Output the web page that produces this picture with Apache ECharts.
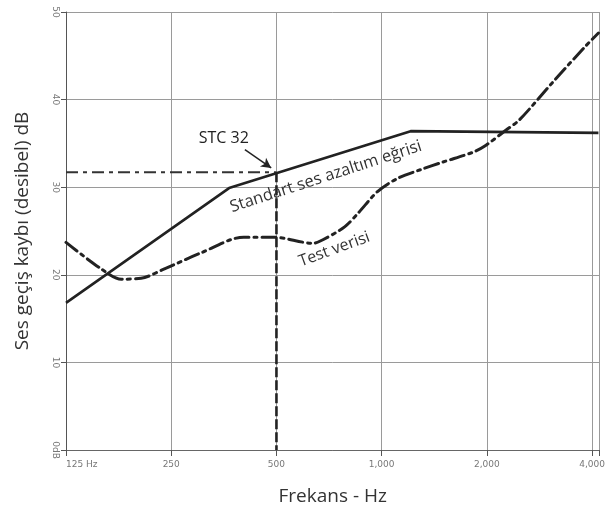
<!DOCTYPE html>
<html>
<head>
<meta charset="utf-8">
<script src="https://cdn.jsdelivr.net/npm/echarts@6/dist/echarts.min.js"></script>
<style>html,body{margin:0;padding:0;background:#fff;}#c{width:608px;height:517px;}</style>
</head>
<body>
<div id="c"></div>
<script>
// ---- data ----
const xLabels = ['125 Hz', '250', '500', '1,000', '2,000', '4,000'];
const xTickHz = [125, 250, 500, 1000, 2000, 4000];
const yLabels = ['0dB', '10', '20', '30', '40', '50'];
// Standard sound transmission class contour (STC 32), Hz / dB
const stcHz = [125, 366, 1210, 4170];
const stcDb = [16.8, 29.9, 36.4, 36.2];
// Test data, Hz / dB
const testHz = [125, 156, 180, 205, 240, 304, 403, 490, 637, 679, 785, 859, 973, 1110, 1292, 1505, 1828, 1973, 2266, 2480, 3074, 3810, 4170];
const testDb = [23.7, 20.8, 19.5, 19.6, 20.7, 22.5, 24.3, 24.3, 23.6, 24.0, 25.5, 27.1, 29.5, 31.0, 32.0, 32.9, 34.0, 34.7, 36.5, 37.7, 41.9, 46.0, 47.6];
const stcRatingHz = 500;
const stcRatingDb = 31.7;

// octave position relative to 125 Hz (axis is octave-spaced)
const oct = hz => Math.log2(hz / xTickHz[0]);
const pairs = (hz, db) => hz.map((h, i) => [oct(h), db[i]]);

const font = 'Open Sans';
const chart = echarts.init(document.getElementById('c'), null, {renderer: 'canvas'});
chart.setOption({
  animation: false,
  backgroundColor: '#fff',
  grid: {left: 66, right: 0, top: 12, bottom: 67, containLabel: false},
  xAxis: {
    type: 'value', min: 0, max: 5.07, interval: 1,
    name: 'Frekans - Hz', nameLocation: 'middle', nameGap: 37,
    nameTextStyle: {fontFamily: font, fontSize: 19, color: '#333'},
    axisLine: {show: true, lineStyle: {color: '#666', width: 1}},
    axisTick: {show: true, length: 6, lineStyle: {color: '#555'}},
    splitLine: {show: true, lineStyle: {color: '#9a9a9a', width: 1}},
    axisLabel: {
      fontFamily: 'DejaVu Sans', fontSize: 9, color: '#777', margin: 10,
      alignMinLabel: 'left',
      formatter: v => {
        const i = Math.round(v);
        return Math.abs(v - i) < 1e-6 && xLabels[i] !== undefined ? xLabels[i] : '';
      }
    }
  },
  yAxis: {
    type: 'value', min: 0, max: 50, interval: 10,
    name: 'Ses geçiş kaybı (desibel) dB', nameLocation: 'middle', nameGap: 34,
    nameTextStyle: {fontFamily: font, fontSize: 19, color: '#333'},
    axisLine: {show: true, lineStyle: {color: '#555', width: 1}},
    axisTick: {show: true, length: 5, lineStyle: {color: '#555'}},
    splitLine: {show: true, lineStyle: {color: '#9a9a9a', width: 1}},
    axisLabel: {
      fontFamily: 'DejaVu Sans', fontSize: 9, color: '#777', rotate: -90, margin: 6,
      formatter: v => yLabels[Math.round(v / 10)] || ''
    }
  },
  series: [
    {
      name: 'Standart', type: 'line', data: pairs(stcHz, stcDb),
      symbol: 'none', lineStyle: {color: '#222', width: 2.6}, z: 5,
      markPoint: {
        symbol: 'circle', symbolSize: 0,
        label: {show: true, fontFamily: font, color: '#222'},
        data: [
          {coord: [1.5, 35.6], label: {formatter: 'STC 32', fontSize: 16}},
          {coord: [2.47, 31.2], label: {formatter: 'Standart ses azaltım eğrisi', fontSize: 16.5, rotate: 18, color: '#333'}},
          {coord: [2.55, 22.9], label: {formatter: 'Test verisi', fontSize: 16, rotate: 20, color: '#333'}}
        ]
      },
      markLine: {
        silent: true, symbol: ['none', 'arrow'], symbolSize: [8, 10],
        label: {show: false},
        lineStyle: {color: '#222', width: 1.5, type: 'solid', curveness: -0.25},
        data: [[{coord: [1.7, 34.3]}, {coord: [1.95, 32.2]}]]
      }
    },
    {
      name: 'Test', type: 'line', data: pairs(testHz, testDb), smooth: 0.3,
      symbol: 'none', lineStyle: {color: '#222', width: 3, type: [14, 5, 3, 5], cap: 'round'}, z: 5
    },
    {
      name: 'STC32h', type: 'line', data: [[oct(xTickHz[0]), stcRatingDb], [oct(stcRatingHz), stcRatingDb]],
      symbol: 'none', lineStyle: {color: '#333', width: 2, type: [12, 5, 4, 5]}, z: 4
    },
    {
      name: 'STC32v', type: 'line', data: [[oct(stcRatingHz), stcRatingDb], [oct(stcRatingHz), 0]],
      symbol: 'none', lineStyle: {color: '#222', width: 2.6, type: [10, 3]}, z: 4
    }
  ]
});
</script>
</body>
</html>
